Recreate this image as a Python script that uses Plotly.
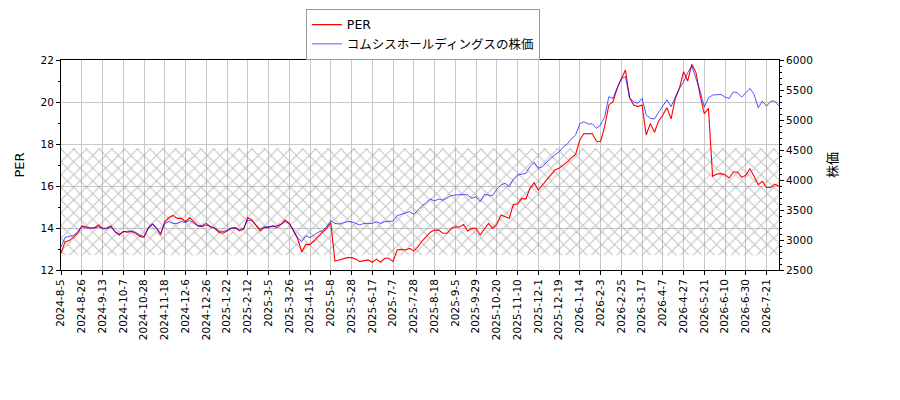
import plotly.graph_objects as go

# tick labels (every 15 trading days)
tick_dates = [
    "2024-8-5", "2024-8-26", "2024-9-13", "2024-10-7", "2024-10-28", "2024-11-18",
    "2024-12-6", "2024-12-26", "2025-1-22", "2025-2-12", "2025-3-5", "2025-3-26",
    "2025-4-15", "2025-5-8", "2025-5-28", "2025-6-17", "2025-7-7", "2025-7-28",
    "2025-8-18", "2025-9-5", "2025-9-29", "2025-10-20", "2025-11-10", "2025-12-1",
    "2025-12-19", "2026-1-14", "2026-2-3", "2026-2-25", "2026-3-17", "2026-4-7",
    "2026-4-27", "2026-5-21", "2026-6-10", "2026-6-30", "2026-7-21",
]

# PER, one value every 3 trading days
per = [
    12.8, 13.35, 13.4, 13.55, 13.75,
    14.1, 14.06, 14.0, 14.0, 14.15,
    13.98, 14.0, 14.1, 13.83, 13.67,
    13.83, 13.8, 13.83, 13.75, 13.6,
    13.55, 14.0, 14.2, 14.0, 13.67,
    14.3, 14.5, 14.6, 14.46, 14.46,
    14.3, 14.5, 14.3, 14.1, 14.1,
    14.22, 14.06, 14.0, 13.8, 13.75,
    13.86, 14.0, 14.02, 13.86, 13.95,
    14.5, 14.38, 14.14, 13.86, 14.02,
    14.02, 14.11, 14.02, 14.17, 14.38,
    14.22, 13.86, 13.5, 12.87, 13.22,
    13.22, 13.38, 13.59, 13.8, 13.98,
    14.25, 12.43, 12.48, 12.52, 12.59,
    12.59, 12.52, 12.4, 12.43, 12.48,
    12.37, 12.52, 12.37, 12.56, 12.56,
    12.4, 12.95, 12.98, 12.95, 13.03,
    12.9, 13.11, 13.38, 13.59, 13.8,
    13.9, 13.9, 13.75, 13.75, 13.98,
    14.06, 14.05, 14.17, 13.86, 13.98,
    13.98, 13.67, 13.95, 14.22, 13.98,
    14.17, 14.62, 14.54, 14.46, 15.13,
    15.13, 15.41, 15.38, 15.89, 16.16,
    15.81, 16.05, 16.24, 16.49, 16.76,
    16.85, 17.0, 17.15, 17.35, 17.5,
    18.19, 18.5, 18.48, 18.5, 18.14,
    18.11, 18.83, 19.86, 20.02, 20.65,
    21.1, 21.52, 20.2, 19.86, 19.78,
    19.86, 18.43, 18.98, 18.56, 19.1,
    19.38, 19.73, 19.19, 20.17, 20.65,
    21.45, 21.0, 21.8, 21.4, 20.3,
    19.44, 19.7, 16.46, 16.57, 16.59,
    16.54, 16.38, 16.67, 16.67, 16.41,
    16.51, 16.82, 16.46, 16.06, 16.22,
    15.93, 15.93, 16.09, 15.98,
]

# share price, same days
price = [
    2885, 3043, 3060, 3078, 3130,
    3221, 3200, 3200, 3200, 3221,
    3194, 3183, 3221, 3139, 3094,
    3139, 3139, 3150, 3128, 3083,
    3060, 3183, 3260, 3200, 3113,
    3277, 3305, 3277, 3277, 3305,
    3295, 3322, 3277, 3239, 3221,
    3249, 3221, 3200, 3151, 3139,
    3165, 3194, 3200, 3172, 3194,
    3333, 3316, 3249, 3183, 3221,
    3221, 3221, 3239, 3260, 3305,
    3277, 3165, 3039, 2973, 3071,
    3039, 3083, 3130, 3155, 3221,
    3322, 3277, 3266, 3288, 3305,
    3305, 3277, 3249, 3277, 3277,
    3277, 3305, 3277, 3305, 3305,
    3316, 3406, 3428, 3445, 3473,
    3428, 3501, 3571, 3624, 3683,
    3651, 3683, 3662, 3704, 3739,
    3750, 3760, 3760, 3750, 3694,
    3722, 3638, 3760, 3750, 3739,
    3844, 3918, 3946, 3890, 4016,
    4082, 4096, 4110, 4222, 4296,
    4194, 4222, 4296, 4362, 4418,
    4467, 4547, 4600, 4687, 4750,
    4939, 4971, 4932, 4939, 4862,
    4915, 5055, 5387, 5360, 5538,
    5685, 5724, 5370, 5300, 5279,
    5360, 5083, 5027, 5017, 5129,
    5240, 5335, 5223, 5387, 5528,
    5632, 5788, 5900, 5705, 5482,
    5214, 5370, 5415, 5426, 5426,
    5381, 5359, 5470, 5454, 5381,
    5454, 5526, 5426, 5203, 5314,
    5231, 5314, 5314, 5231,
]

# hatched PER band
band_low = 12.7
band_high = 17.8

day = list(range(0, 3 * len(per), 3))
x_end = day[-1]
font = "DejaVu Sans, Noto Sans CJK JP, sans-serif"

fig = go.Figure()

# hatched band
fig.add_trace(go.Scatter(
    x=[0, x_end, x_end, 0, 0], y=[band_low, band_low, band_high, band_high, band_low],
    mode="lines", line=dict(width=0), fill="toself", fillcolor="rgba(0,0,0,0)",
    fillpattern=dict(shape="x", fgcolor="#8c8c8c", bgcolor="rgba(0,0,0,0)", size=9, solidity=0.24),
    showlegend=False, hoverinfo="skip",
))

fig.add_trace(go.Scatter(x=day, y=per, mode="lines", name="PER",
                         line=dict(color="#ff0000", width=1.1)))
fig.add_trace(go.Scatter(x=day, y=price, mode="lines", name="コムシスホールディングスの株価",
                         line=dict(color="rgba(0,0,255,0.75)", width=0.9), yaxis="y2"))

# page body adds an 8px offset, so margins are shifted to compensate
fig.update_layout(
    width=900, height=400,
    margin=dict(l=53, r=129, t=52, b=138, autoexpand=False),
    paper_bgcolor="white", plot_bgcolor="white",
    font=dict(family=font, size=10.5, color="black"),
    legend=dict(x=0.341, y=1.243, xanchor="left", yanchor="top",
                bgcolor="white", bordercolor="#999999", borderwidth=1,
                font=dict(size=12.5), tracegroupgap=0, itemwidth=30),
    xaxis=dict(range=[0, x_end], tickvals=[15 * i for i in range(len(tick_dates))],
               ticktext=tick_dates, tickangle=-90, ticks="outside", ticklen=4,
               tickcolor="black", showline=True, linecolor="black", mirror=True,
               showgrid=True, gridcolor="#c8c8c8", gridwidth=1, zeroline=False),
    yaxis=dict(range=[12, 22], dtick=2, ticks="outside", ticklen=4, tickcolor="black",
               minor=dict(dtick=1, ticks="outside", ticklen=2, tickcolor="black", showgrid=False),
               showline=True, linecolor="black", mirror=True,
               showgrid=True, gridcolor="#c8c8c8", gridwidth=1, zeroline=False,
               title=dict(text="PER", standoff=12)),
    yaxis2=dict(range=[2500, 6000], dtick=500, overlaying="y", side="right",
                ticks="outside", ticklen=4, tickcolor="black",
                minor=dict(dtick=100, ticks="outside", ticklen=2, tickcolor="black", showgrid=False),
                showline=True, linecolor="black", showgrid=False, zeroline=False,
                title=dict(text="株価", standoff=16)),
)

fig.write_html("out.html")
